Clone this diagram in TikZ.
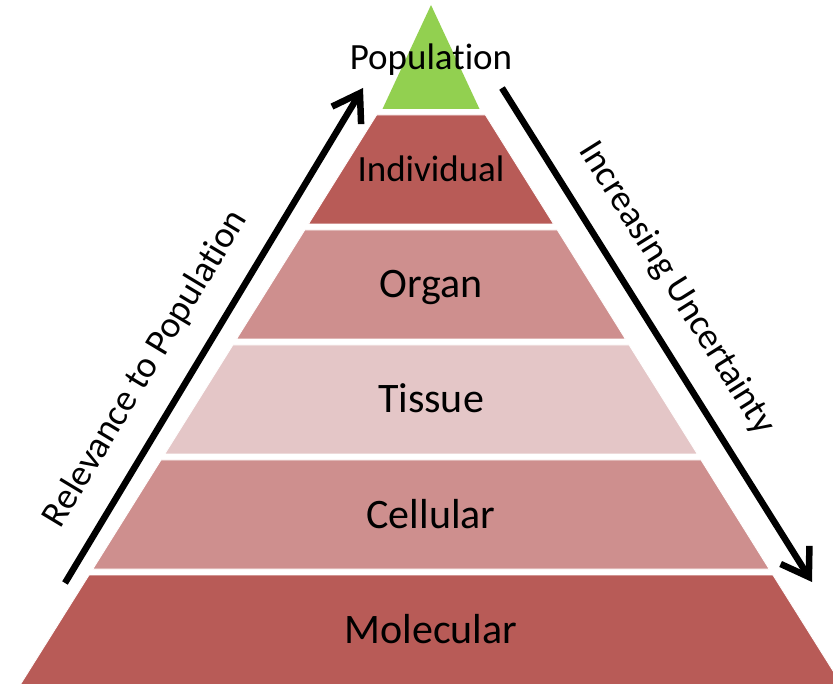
\documentclass[tikz,border=0pt]{standalone}
\usepackage{fontspec}
\setmainfont{Carlito}[Ligatures=NoCommon]
\usetikzlibrary{arrows.meta, positioning}

\definecolor{darkrose}{HTML}{B85B57}
\definecolor{midrose}{HTML}{CE8F8E}
\definecolor{palerose}{HTML}{E4C6C7}
\definecolor{leafgreen}{HTML}{92D050}

\begin{document}
\begin{tikzpicture}[
        x=1pt, y=-1pt,
        layer/.style={draw=white, line width=0.8pt},
        lbl/.style={anchor=base, inner sep=0pt, font=\fontsize{42}{50}\selectfont},
        small/.style={font=\fontsize{37}{44}\selectfont},
        arrow/.style={-{Straight Barb[length=26pt, width=34pt]}, line width=6.5pt}
    ]
        \useasboundingbox (0,0) rectangle (833,684);

        % pyramid, top to bottom
        \fill[leafgreen] (431,5) -- (479.5,109) -- (382.5,109) -- cycle;
        \path[layer, fill=darkrose] (376.6,115) -- (485.4,115) -- (553.5,224) -- (308.5,224) -- cycle;
        \path[layer, fill=midrose] (304.8,230) -- (557.3,230) -- (625.4,339) -- (236.6,339) -- cycle;
        \path[layer, fill=palerose] (232.9,345) -- (629.1,345) -- (697.3,454) -- (164.8,454) -- cycle;
        \path[layer, fill=midrose] (161,460) -- (701,460) -- (769.1,569) -- (92.9,569) -- cycle;
        \path[layer, fill=darkrose] (89.1,575) -- (772.9,575) -- (845,690) -- (17,690) -- cycle;

        \node[lbl, small] (pop) at (431,70) {Population};
        \node[lbl, small] (ind) at (431,181.5) {Individual};
        \node[lbl] (org) at (431,298) {Organ};
        \node[lbl] (tis) at (431,413) {Tissue};
        \node[lbl] (cel) at (431,528) {Cellular};
        \node[lbl] (mol) at (431,643) {Molecular};

        % side arrows
        \coordinate (relfrom) at (65,583);
        \coordinate (relto) at (363,88);
        \coordinate (uncfrom) at (502,88);
        \coordinate (uncto) at (812,582);

        \draw[arrow] (relfrom) -- (relto)
            node[pos=0.39, sloped, above=22pt, inner sep=0pt, small] (rel) {Relevance to Population};
        \draw[arrow] (uncfrom) -- (uncto)
            node[pos=0.45, sloped, above=22pt, inner sep=0pt, small] (unc) {Increasing Uncertainty};
    \end{tikzpicture}
\end{document}
